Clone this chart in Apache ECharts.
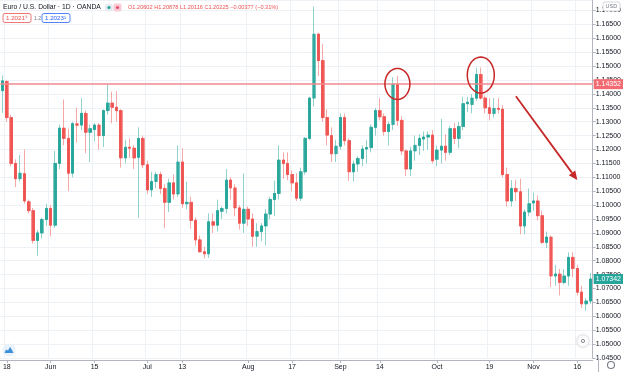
<!DOCTYPE html>
<html><head><meta charset="utf-8">
<script src="https://cdn.jsdelivr.net/npm/echarts@6/dist/echarts.min.js"></script>
<style>html,body{margin:0;padding:0;background:#fff}#c{width:624px;height:372px}</style>
</head><body><div id="c"></div>
<script>
// ---- data (EUR/USD daily) ----
const startDate = '2015-05-15';
const endDate = '2015-11-19';
const opens = [1.1412,1.1445,1.1315,1.1150,1.1095,1.1113,1.1012,1.0980,1.0873,1.0900,1.0948,1.0988,1.0928,1.1150,1.1277,1.1240,1.1115,1.1293,1.1288,1.1330,1.1262,1.1272,1.1288,1.1250,1.1340,1.1367,1.1352,1.1340,1.1170,1.1208,1.1205,1.1172,1.1240,1.1145,1.1055,1.1085,1.1110,1.1060,1.1010,1.1080,1.1040,1.1155,1.1005,1.1010,1.0945,1.0875,1.0832,1.0825,1.0940,1.0928,1.0978,1.0988,1.1090,1.1062,1.0990,1.0935,1.0985,1.0950,1.0888,1.0905,1.0925,1.0968,1.1020,1.1042,1.1162,1.1150,1.1110,1.1080,1.1025,1.1120,1.1240,1.1385,1.1615,1.1520,1.1315,1.1250,1.1185,1.1212,1.1315,1.1232,1.1120,1.1148,1.1168,1.1202,1.1207,1.1280,1.1340,1.1318,1.1265,1.1290,1.1435,1.1305,1.1195,1.1130,1.1195,1.1215,1.1238,1.1245,1.1252,1.1165,1.1198,1.1212,1.1190,1.1275,1.1240,1.1283,1.1365,1.1362,1.1385,1.1470,1.1385,1.1350,1.1330,1.1348,1.1345,1.1110,1.1015,1.1060,1.1048,1.0925,1.0975,1.1008,1.1015,1.0962,1.0866,1.0885,1.0745,1.0752,1.0722,1.0745,1.0812,1.0772,1.0687,1.0645,1.0655];
const highs = [1.1467,1.1448,1.1325,1.1165,1.1180,1.1200,1.1020,1.0990,1.0910,1.0955,1.1005,1.1000,1.1195,1.1290,1.1380,1.1275,1.1300,1.1350,1.1385,1.1340,1.1290,1.1295,1.1295,1.1345,1.1435,1.1408,1.1410,1.1345,1.1235,1.1240,1.1215,1.1280,1.1250,1.1160,1.1120,1.1120,1.1120,1.1075,1.1095,1.1110,1.1215,1.1205,1.1085,1.1030,1.0955,1.0890,1.0850,1.0970,1.0970,1.1020,1.0995,1.1130,1.1100,1.1075,1.1000,1.1114,1.0995,1.0970,1.0935,1.0935,1.0985,1.1030,1.1088,1.1215,1.1190,1.1190,1.1125,1.1115,1.1135,1.1245,1.1390,1.1714,1.1620,1.1580,1.1345,1.1280,1.1235,1.1330,1.1330,1.1240,1.1160,1.1175,1.1215,1.1235,1.1290,1.1350,1.1385,1.1330,1.1300,1.1460,1.1465,1.1320,1.1200,1.1210,1.1250,1.1255,1.1265,1.1265,1.1270,1.1215,1.1310,1.1255,1.1285,1.1295,1.1300,1.1390,1.1390,1.1400,1.1495,1.1495,1.1395,1.1385,1.1385,1.1385,1.1360,1.1135,1.1090,1.1090,1.1095,1.0985,1.1060,1.1045,1.1035,1.0980,1.0905,1.0890,1.0785,1.0770,1.0770,1.0830,1.0830,1.0785,1.0710,1.0665,1.0755];
const lows = [1.1332,1.1300,1.1140,1.1065,1.1085,1.1005,1.0970,1.0862,1.0818,1.0880,1.0925,1.0888,1.0918,1.1130,1.1215,1.1050,1.1100,1.1225,1.1270,1.1187,1.1155,1.1230,1.1200,1.1209,1.1325,1.1295,1.1300,1.1135,1.1150,1.1170,1.1130,1.0955,1.1133,1.1040,1.1030,1.1060,1.1040,1.0918,1.0975,1.1020,1.1030,1.0990,1.0985,1.0915,1.0855,1.0830,1.0808,1.0810,1.0900,1.0905,1.0950,1.0970,1.1020,1.0960,1.0912,1.0900,1.0925,1.0850,1.0850,1.0870,1.0855,1.0950,1.0960,1.1020,1.1095,1.1090,1.1050,1.1015,1.1015,1.1110,1.1235,1.1355,1.1465,1.1300,1.1215,1.1155,1.1155,1.1200,1.1215,1.1087,1.1085,1.1120,1.1140,1.1150,1.1190,1.1250,1.1305,1.1250,1.1215,1.1270,1.1285,1.1180,1.1105,1.1105,1.1160,1.1180,1.1195,1.1200,1.1150,1.1140,1.1150,1.1160,1.1180,1.1220,1.1205,1.1270,1.1335,1.1330,1.1375,1.1380,1.1330,1.1305,1.1315,1.1330,1.1100,1.0995,1.0995,1.1015,1.0895,1.0895,1.0960,1.0980,1.0945,1.0860,1.0845,1.0705,1.0710,1.0675,1.0715,1.0710,1.0740,1.0675,1.0630,1.0620,1.0645];
const closes = [1.1447,1.1315,1.1150,1.1095,1.1115,1.1015,1.0980,1.0873,1.0900,1.0948,1.0988,1.0928,1.1150,1.1277,1.1240,1.1115,1.1293,1.1287,1.1330,1.1262,1.1275,1.1288,1.1250,1.1340,1.1367,1.1352,1.1340,1.1170,1.1208,1.1205,1.1170,1.1240,1.1145,1.1055,1.1085,1.1110,1.1060,1.1010,1.1080,1.1040,1.1155,1.1005,1.1010,1.0945,1.0875,1.0832,1.0825,1.0940,1.0928,1.0980,1.0988,1.1090,1.1062,1.0990,1.0935,1.0985,1.0950,1.0888,1.0905,1.0925,1.0968,1.1020,1.1042,1.1162,1.1150,1.1110,1.1080,1.1025,1.1120,1.1240,1.1385,1.1615,1.1520,1.1315,1.1252,1.1185,1.1212,1.1315,1.1232,1.1120,1.1148,1.1168,1.1202,1.1207,1.1280,1.1340,1.1318,1.1265,1.1290,1.1435,1.1305,1.1195,1.1130,1.1195,1.1215,1.1240,1.1245,1.1252,1.1160,1.1198,1.1212,1.1190,1.1275,1.1240,1.1283,1.1365,1.1370,1.1385,1.1470,1.1385,1.1350,1.1330,1.1348,1.1345,1.1110,1.1015,1.1060,1.1048,1.0925,1.0975,1.1005,1.1015,1.0962,1.0866,1.0885,1.0745,1.0752,1.0722,1.0745,1.0812,1.0772,1.0687,1.0645,1.0655,1.0734];
const tickDates = ['2015-05-18','2015-06-01','2015-06-15','2015-07-01','2015-07-13','2015-08-03','2015-08-17','2015-09-01','2015-09-14','2015-10-01','2015-10-19','2015-11-02','2015-11-16'];
const tickLabels = ['18','Jun','15','Jul','13','Aug','17','Sep','14','Oct','19','Nov','16'];
const hLineLevel = 1.14352;
const lastPrice = 1.07342;
const yMin = 1.045, yMax = 1.1738, yStep = 0.005;
// annotation anchors: [category index, price]
const circleA = {c:[89.5, 1.1436], rx:12.5, ry:15.5};
const circleB = {c:[108.6, 1.1468], rx:13.5, ry:18};
const arrowFrom = [117.3, 1.1392];
const arrowTo = [130.6, 1.1090];

function tradingDays(s, e){
  const out=[]; let d=new Date(s+'T00:00:00Z'); const end=new Date(e+'T00:00:00Z');
  while(d<=end){ const w=d.getUTCDay(); if(w!==0&&w!==6) out.push(d.toISOString().slice(0,10)); d=new Date(d.getTime()+86400000); }
  return out;
}
const categories = tradingDays(startDate, endDate);
const fullData = categories.map((_, i) => [opens[i], closes[i], lows[i], highs[i]]);
const bodyData = categories.map((_, i) => [opens[i], closes[i], Math.min(opens[i], closes[i]), Math.max(opens[i], closes[i])]);
const isTick = (idx, val) => tickDates.indexOf(val) >= 0;

const FONT = 'Liberation Sans';
const GREEN = '#26a69a', RED = '#ef5350';
const chart = echarts.init(document.getElementById('c'), null, {renderer:'canvas'});

const option = {
  animation:false,
  backgroundColor:'#ffffff',
  textStyle:{fontFamily:FONT},
  grid:{left:-1.1, right:26, top:0, bottom:14, containLabel:false},
  xAxis:{
    type:'category', data:categories, boundaryGap:true, offset:2,
    axisLine:{lineStyle:{color:'#b2b5be', width:1}},
    axisTick:{show:true, interval:isTick, alignWithLabel:true, length:3, lineStyle:{color:'#b2b5be'}},
    axisLabel:{interval:isTick, fontSize:7, color:'#131722', margin:4, fontFamily:FONT,
      formatter:(v)=>{const k=tickDates.indexOf(v); return k>=0?tickLabels[k]:'';}},
    splitLine:{show:true, interval:isTick, lineStyle:{color:'#eef1f5', width:1}}
  },
  yAxis:{
    type:'value', position:'right', min:yMin, max:yMax, interval:yStep,
    axisLine:{show:true, lineStyle:{color:'#b2b5be', width:1}},
    axisTick:{show:true, length:3, lineStyle:{color:'#b2b5be'}},
    axisLabel:{fontSize:7, color:'#131722', margin:3, fontFamily:FONT, showMaxLabel:false,
      formatter:(v)=>v.toFixed(5)},
    splitLine:{show:true, lineStyle:{color:'#eef1f5', width:1}}
  },
  series:[
    {type:'candlestick', name:'wicks', data:fullData, barWidth:3, silent:true, z:2,
      itemStyle:{color:'rgba(38,166,154,0.5)', color0:'rgba(239,83,80,0.5)', borderColor:'rgba(38,166,154,0.5)', borderColor0:'rgba(239,83,80,0.5)', borderWidth:1}},
    {type:'candlestick', name:'bodies', data:bodyData, barWidth:2.4, silent:true, z:3,
      itemStyle:{color:GREEN, color0:RED, borderColor:GREEN, borderColor0:RED, borderWidth:0.8},
      markLine:{symbol:'none', silent:true, animation:false, precision:5, z:4,
        data:[
          {yAxis:hLineLevel, lineStyle:{color:'#f08a8e', width:1.5, type:'solid'},
            label:{show:true, position:'end', distance:1, formatter:()=>hLineLevel.toFixed(5), color:'#fff', backgroundColor:'#f26b72', padding:[2,2,1,2], fontSize:7, fontFamily:FONT}},
          {yAxis:lastPrice, lineStyle:{color:'rgba(255,255,255,0)', width:1, type:'solid'},
            label:{show:true, position:'end', distance:1, formatter:()=>lastPrice.toFixed(5), color:'#fff', backgroundColor:GREEN, padding:[2,2,1,2], fontSize:7, fontFamily:FONT}}
        ]}
    }
  ]
};
chart.setOption(option);

// ---- annotations & decorations ----
function ellipsePts(cx, cy, rx, ry){const p=[];for(let k=0;k<48;k++){const a=k/48*Math.PI*2;p.push([cx+rx*Math.cos(a), cy+ry*Math.sin(a)]);}return p;}
const pA = chart.convertToPixel({gridIndex:0}, circleA.c);
const pB = chart.convertToPixel({gridIndex:0}, circleB.c);
const a0 = chart.convertToPixel({gridIndex:0}, arrowFrom);
const a1 = chart.convertToPixel({gridIndex:0}, arrowTo);
const ang = Math.atan2(a1[1]-a0[1], a1[0]-a0[0]);
const hl = 9, hw = 4;
const tip = a1;
const base = [tip[0]-hl*Math.cos(ang), tip[1]-hl*Math.sin(ang)];
const left = [base[0]+hw*Math.sin(ang), base[1]-hw*Math.cos(ang)];
const right = [base[0]-hw*Math.sin(ang), base[1]+hw*Math.cos(ang)];
const ANN = '#c62828';
const graphics = [
  {type:'polygon', shape:{points:ellipsePts(pA[0],pA[1],circleA.rx,circleA.ry)}, style:{fill:'none', stroke:ANN, lineWidth:1.5}, z:100},
  {type:'polygon', shape:{points:ellipsePts(pB[0],pB[1],circleB.rx,circleB.ry)}, style:{fill:'none', stroke:ANN, lineWidth:1.5}, z:100},
  {type:'line', shape:{x1:a0[0], y1:a0[1], x2:base[0], y2:base[1]}, style:{stroke:ANN, lineWidth:1.8}, z:100},
  {type:'polygon', shape:{points:[tip,left,right]}, style:{fill:ANN}, z:100},
  // header
  {type:'text', x:3, y:3.5, style:{text:'Euro / U.S. Dollar · 1D · OANDA', fill:'#131722', font:'6.8px '+FONT}, z:100},
  {type:'circle', shape:{cx:109, cy:7.5, r:4}, style:{fill:'#e6ebef'}, z:100},
  {type:'circle', shape:{cx:109, cy:7.5, r:1.6}, style:{fill:GREEN}, z:101},
  {type:'rect', shape:{x:113.5, y:3.5, width:8, height:8, r:2}, style:{fill:'#f9cbd4'}, z:100},
  {type:'circle', shape:{cx:117.5, cy:7.5, r:1.6}, style:{fill:'#e84a6b'}, z:101},
  {type:'text', x:128, y:4.5, style:{text:'O1.20602 H1.20878 L1.20116 C1.20225 −0.00377 (−0.31%)', fill:RED, font:'5.6px '+FONT}, z:100},
  {type:'rect', shape:{x:3, y:13.5, width:28, height:9, r:2}, style:{fill:'#fff', stroke:RED, lineWidth:0.8}, z:100},
  {type:'text', x:6, y:15.2, style:{text:'1.2021\u2079', fill:RED, font:'6.2px '+FONT}, z:101},
  {type:'text', x:34, y:15.8, style:{text:'1.2', fill:'#787b86', font:'5.2px '+FONT}, z:100},
  {type:'rect', shape:{x:42, y:13.5, width:28, height:9, r:2}, style:{fill:'#fff', stroke:'#2962ff', lineWidth:0.8}, z:100},
  {type:'text', x:45, y:15.2, style:{text:'1.2023\u00b9', fill:'#2962ff', font:'6.2px '+FONT}, z:101},
  // USD box
  {type:'rect', shape:{x:603, y:2, width:17, height:9, r:2}, style:{fill:'#fff', stroke:'#c8cbd2', lineWidth:0.8}, z:100},
  {type:'text', x:605.5, y:3.5, style:{text:'USD', fill:'#787b86', font:'5.5px '+FONT}, z:101},
  // axis separator continuation
  {type:'line', shape:{x1:598.5, y1:358, x2:598.5, y2:372}, style:{stroke:'#b2b5be', lineWidth:1}, z:100},
  // bottom-left logo
  {type:'circle', shape:{cx:9, cy:350, r:6.5}, style:{fill:'#e9f2fb'}, z:100},
  {type:'polygon', shape:{points:[[4.5,353],[6,349.5],[8,350.5],[10,347],[12,350],[13.5,353]]}, style:{fill:'#3d8fd8'}, z:101},
  // bottom-right buttons
  {type:'circle', shape:{cx:583, cy:341, r:6}, style:{fill:'#fff', stroke:'#e0e3eb', lineWidth:0.8, shadowBlur:3, shadowColor:'rgba(0,0,0,0.12)'}, z:100},
  {type:'circle', shape:{cx:583, cy:341, r:1.6}, style:{fill:'none', stroke:'#787b86', lineWidth:0.9}, z:101},
  {type:'circle', shape:{cx:611, cy:365, r:3.5}, style:{fill:'none', stroke:'#787b86', lineWidth:1.1}, z:100}
];
chart.setOption({graphic:graphics});
</script></body></html>
